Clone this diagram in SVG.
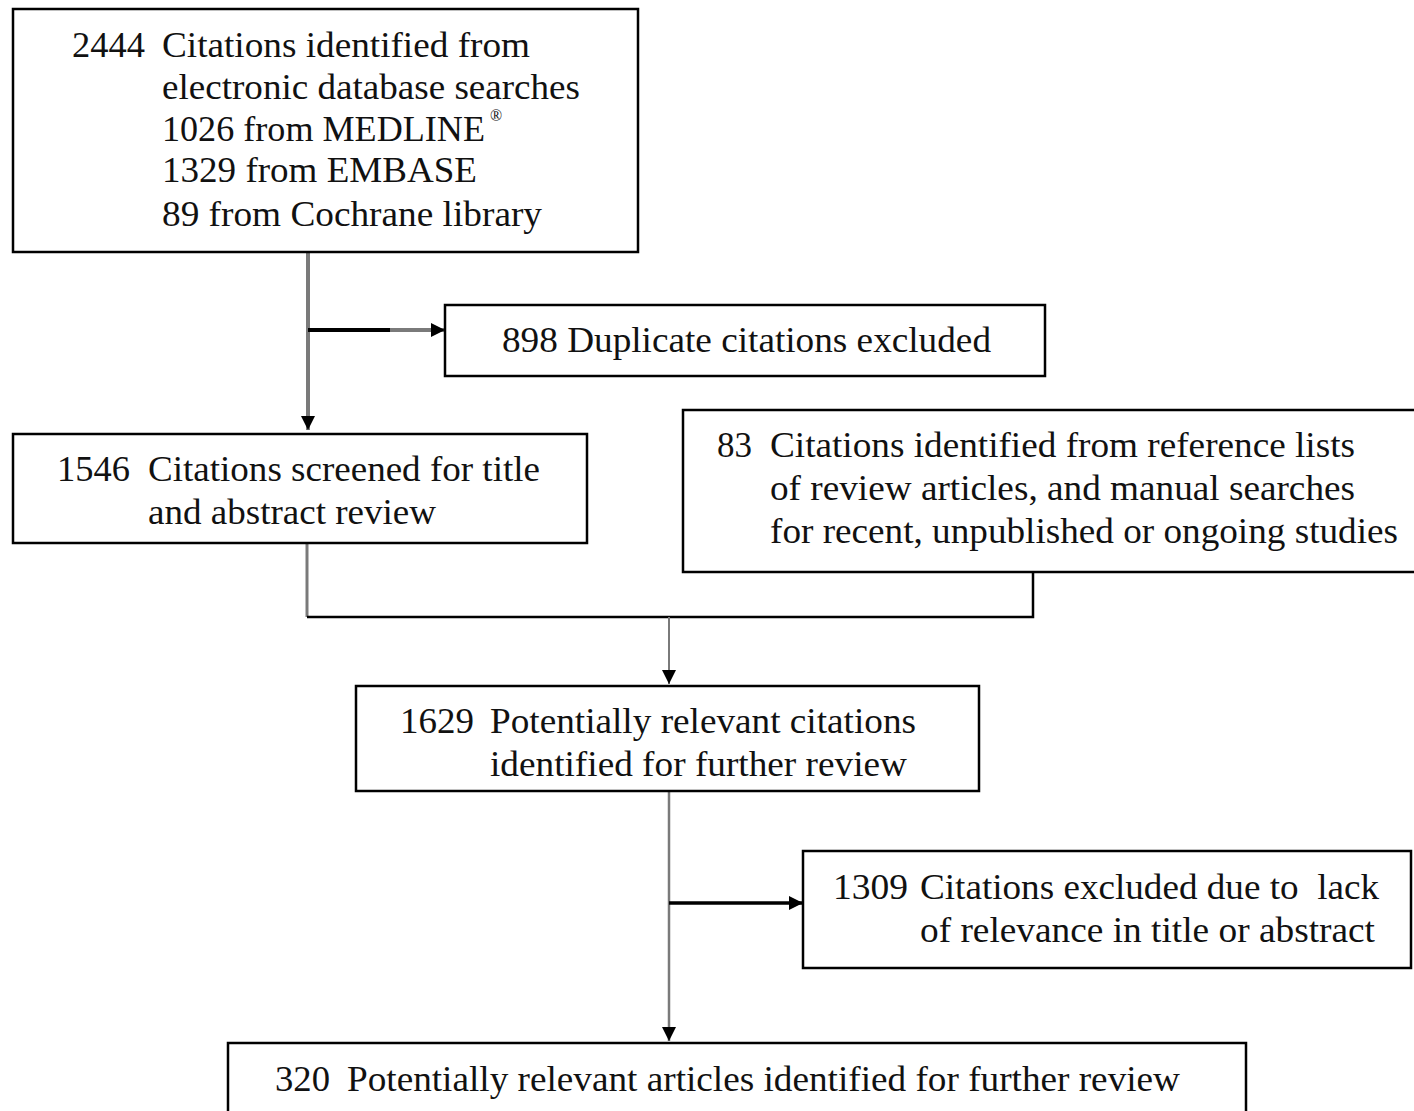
<svg xmlns="http://www.w3.org/2000/svg" width="1414" height="1111" viewBox="0 0 1414 1111">
<style>
.box{fill:#fff;stroke:#000;stroke-width:2.5}
text{font-family:"Liberation Serif","Times New Roman",serif;font-size:36px;fill:#111}
.g{stroke:#7a7a7a;fill:none}
.k{stroke:#000;fill:none}
</style>
<defs>
<marker id="ah" viewBox="0 0 10 10" refX="10" refY="5" markerWidth="14" markerHeight="14" markerUnits="userSpaceOnUse" orient="auto">
<path d="M0,0 L10,5 L0,10 Z" fill="#000"/>
</marker>
</defs>
<rect width="1414" height="1111" fill="#fff"/>
<g id="connectors">
<line class="g" x1="308" y1="252" x2="308" y2="430" stroke-width="4" marker-end="url(#ah)"/>
<line class="k" x1="308" y1="330" x2="390" y2="330" stroke-width="4"/>
<line class="g" x1="390" y1="330" x2="445" y2="330" stroke-width="4" marker-end="url(#ah)"/>
<polyline class="g" points="307,543 307,617" stroke-width="3" stroke="#999"/>
<polyline class="k" points="307,617 1033,617 1033,572" stroke-width="2.5"/>
<line class="g" x1="669" y1="617" x2="669" y2="684" stroke-width="2" marker-end="url(#ah)"/>
<line class="g" x1="669" y1="791" x2="669" y2="1041" stroke-width="2.5" marker-end="url(#ah)"/>
<line class="k" x1="669" y1="903" x2="803" y2="903" stroke-width="3.5" marker-end="url(#ah)"/>
</g>
<g id="n1">
<rect class="box" x="13" y="9" width="625" height="243"/>
<text x="72" y="57" textLength="73" lengthAdjust="spacingAndGlyphs">2444</text>
<text x="162" y="57" textLength="368" lengthAdjust="spacingAndGlyphs">Citations identified from</text>
<text x="162" y="99" textLength="418" lengthAdjust="spacingAndGlyphs">electronic database searches</text>
<text x="162" y="141" textLength="323" lengthAdjust="spacingAndGlyphs">1026 from MEDLINE</text>
<text x="490" y="121" style="font-size:16px">®</text>
<text x="162" y="182" textLength="315" lengthAdjust="spacingAndGlyphs">1329 from EMBASE</text>
<text x="162" y="226" textLength="380" lengthAdjust="spacingAndGlyphs">89 from Cochrane library</text>
</g>
<g id="n2">
<rect class="box" x="445" y="305" width="600" height="71"/>
<text x="502" y="352" textLength="489" lengthAdjust="spacingAndGlyphs">898 Duplicate citations excluded</text>
</g>
<g id="n3">
<rect class="box" x="13" y="434" width="574" height="109"/>
<text x="57" y="481" textLength="73" lengthAdjust="spacingAndGlyphs">1546</text>
<text x="148" y="481" textLength="392" lengthAdjust="spacingAndGlyphs">Citations screened for title</text>
<text x="148" y="524" textLength="288" lengthAdjust="spacingAndGlyphs">and abstract review</text>
</g>
<g id="n4">
<rect class="box" x="683" y="410" width="740" height="162"/>
<text x="717" y="457" textLength="35" lengthAdjust="spacingAndGlyphs">83</text>
<text x="770" y="457" textLength="585" lengthAdjust="spacingAndGlyphs">Citations identified from reference lists</text>
<text x="770" y="500" textLength="585" lengthAdjust="spacingAndGlyphs">of review articles, and manual searches</text>
<text x="770" y="543" textLength="628" lengthAdjust="spacingAndGlyphs">for recent, unpublished or ongoing studies</text>
</g>
<g id="n5">
<rect class="box" x="356" y="686" width="623" height="105"/>
<text x="400" y="733" textLength="74" lengthAdjust="spacingAndGlyphs">1629</text>
<text x="490" y="733" textLength="426" lengthAdjust="spacingAndGlyphs">Potentially relevant citations</text>
<text x="490" y="776" textLength="417" lengthAdjust="spacingAndGlyphs">identified for further review</text>
</g>
<g id="n6">
<rect class="box" x="803" y="851" width="608" height="117"/>
<text x="833" y="899" textLength="75" lengthAdjust="spacingAndGlyphs">1309</text>
<text x="920" y="899" textLength="459" lengthAdjust="spacingAndGlyphs" xml:space="preserve">Citations excluded due to  lack</text>
<text x="920" y="942" textLength="455" lengthAdjust="spacingAndGlyphs">of relevance in title or abstract</text>
</g>
<g id="n7">
<rect class="box" x="228" y="1043" width="1018" height="90"/>
<text x="275" y="1091" textLength="55" lengthAdjust="spacingAndGlyphs">320</text>
<text x="347" y="1091" textLength="833" lengthAdjust="spacingAndGlyphs">Potentially relevant articles identified for further review</text>
</g>
</svg>
